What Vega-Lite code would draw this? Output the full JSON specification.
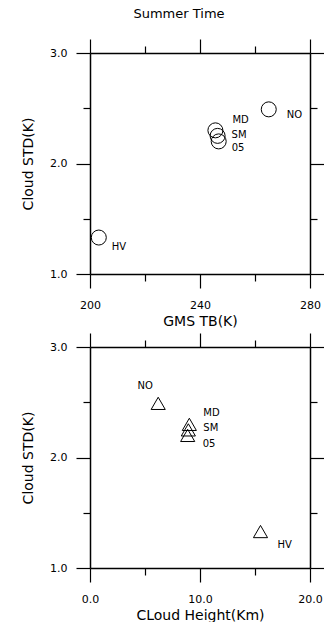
{
  "$schema": "https://vega.github.io/schema/vega-lite/v6.json",
  "padding": {"left": 21, "top": 8, "right": 0, "bottom": 0},
  "autosize": {"type": "pad"},
  "spacing": 4,
  "config": {
    "font": "DejaVu Sans",
    "view": {"stroke": null},
    "axis": {
      "grid": false,
      "domainColor": "black",
      "domainWidth": 1.5,
      "tickColor": "black",
      "tickWidth": 1.2,
      "labelColor": "black",
      "labelFontSize": 11,
      "labelFlush": false,
      "labelOverlap": false,
      "labelPadding": 9,
      "titleColor": "black",
      "titleFontSize": 14,
      "titleFontWeight": "normal"
    },
    "axisY": {"titlePadding": 14},
    "axisX": {"titlePadding": 4, "labelPadding": 11},
    "text": {"fontSize": 10, "font": "DejaVu Sans", "color": "black", "baseline": "middle", "align": "left"}
  },
  "datasets": {
    "summer": [
      {"station": "HV", "tb": 203.2, "height": 15.5, "std": 1.33},
      {"station": "MD", "tb": 245.6, "height": 9.03, "std": 2.30},
      {"station": "SM", "tb": 246.4, "height": 8.94, "std": 2.25},
      {"station": "05", "tb": 246.8, "height": 8.88, "std": 2.20},
      {"station": "NO", "tb": 265.0, "height": 6.2, "std": 2.49}
    ]
  },
  "vconcat": [
    {
      "width": 220,
      "height": 221,
      "title": {"text": "Summer Time", "fontSize": 13, "fontWeight": "normal", "font": "DejaVu Sans", "dx": -21, "offset": 17, "color": "black"},
      "data": {"name": "summer"},
      "encoding": {
        "x": {"field": "tb", "type": "quantitative", "scale": {"domain": [200, 280], "nice": false, "zero": false}, "axis": null},
        "y": {"field": "std", "type": "quantitative", "scale": {"domain": [1, 3], "nice": false, "zero": false}, "axis": null}
      },
      "layer": [
        {
          "mark": {"type": "point", "shape": "circle", "size": 225, "stroke": "black", "strokeWidth": 1, "filled": false, "opacity": 1},
          "encoding": {
            "x": {"field": "tb", "type": "quantitative", "scale": {"domain": [200, 280], "nice": false, "zero": false},
              "axis": {"orient": "bottom", "title": "GMS TB(K)", "values": [200, 220, 240, 260, 280],
                "labelExpr": "datum.value % 40 === 0 ? format(datum.value, 'd') : ''",
                "tickSize": {"condition": {"test": "datum.value % 40 === 0", "value": 14}, "value": 7}}},
            "y": {"field": "std", "type": "quantitative", "scale": {"domain": [1, 3], "nice": false, "zero": false},
              "axis": {"orient": "left", "title": "Cloud STD(K)", "values": [1, 1.5, 2, 2.5, 3],
                "labelExpr": "datum.value % 1 === 0 ? format(datum.value, '.1f') : ''",
                "tickSize": {"condition": {"test": "datum.value % 1 === 0", "value": 14}, "value": 7}}}
          }
        },
        {
          "mark": {"type": "point", "opacity": 0},
          "encoding": {
            "x": {"field": "tb", "type": "quantitative", "scale": {"domain": [200, 280], "nice": false, "zero": false},
              "axis": {"orient": "top", "title": null, "labels": false, "values": [200, 220, 240, 260, 280],
                "tickSize": {"condition": {"test": "datum.value % 40 === 0", "value": 14}, "value": 7}}},
            "y": {"field": "std", "type": "quantitative", "scale": {"domain": [1, 3], "nice": false, "zero": false},
              "axis": {"orient": "right", "title": null, "labels": false, "values": [1, 1.5, 2, 2.5, 3],
                "tickSize": {"condition": {"test": "datum.value % 1 === 0", "value": 14}, "value": 7}}}
          }
        },
        {"transform": [{"filter": "datum.station === 'MD'"}], "mark": {"type": "text", "dx": 17, "dy": -10}, "encoding": {"text": {"field": "station"}}},
        {"transform": [{"filter": "datum.station === 'SM'"}], "mark": {"type": "text", "dx": 14, "dy": -1}, "encoding": {"text": {"field": "station"}}},
        {"transform": [{"filter": "datum.station === '05'"}], "mark": {"type": "text", "dx": 13, "dy": 7}, "encoding": {"text": {"field": "station"}}},
        {"transform": [{"filter": "datum.station === 'NO'"}], "mark": {"type": "text", "dx": 18, "dy": 6}, "encoding": {"text": {"field": "station"}}},
        {"transform": [{"filter": "datum.station === 'HV'"}], "mark": {"type": "text", "dx": 13, "dy": 9}, "encoding": {"text": {"field": "station"}}}
      ],
      "resolve": {"axis": {"x": "independent", "y": "independent"}}
    },
    {
      "width": 220,
      "height": 221,
      "data": {"name": "summer"},
      "encoding": {
        "x": {"field": "height", "type": "quantitative", "scale": {"domain": [0, 20], "nice": false, "zero": false}, "axis": null},
        "y": {"field": "std", "type": "quantitative", "scale": {"domain": [1, 3], "nice": false, "zero": false}, "axis": null}
      },
      "layer": [
        {
          "mark": {"type": "point", "shape": "triangle-up", "size": 200, "stroke": "black", "strokeWidth": 1, "filled": false, "opacity": 1},
          "encoding": {
            "x": {"field": "height", "type": "quantitative", "scale": {"domain": [0, 20], "nice": false, "zero": false},
              "axis": {"orient": "bottom", "title": "CLoud Height(Km)", "values": [0, 5, 10, 15, 20],
                "labelExpr": "datum.value % 10 === 0 ? format(datum.value, '.1f') : ''",
                "tickSize": {"condition": {"test": "datum.value % 10 === 0", "value": 14}, "value": 7}}},
            "y": {"field": "std", "type": "quantitative", "scale": {"domain": [1, 3], "nice": false, "zero": false},
              "axis": {"orient": "left", "title": "Cloud STD(K)", "values": [1, 1.5, 2, 2.5, 3],
                "labelExpr": "datum.value % 1 === 0 ? format(datum.value, '.1f') : ''",
                "tickSize": {"condition": {"test": "datum.value % 1 === 0", "value": 14}, "value": 7}}}
          }
        },
        {
          "mark": {"type": "point", "opacity": 0},
          "encoding": {
            "x": {"field": "height", "type": "quantitative", "scale": {"domain": [0, 20], "nice": false, "zero": false},
              "axis": {"orient": "top", "title": null, "labels": false, "values": [0, 5, 10, 15, 20],
                "tickSize": {"condition": {"test": "datum.value % 10 === 0", "value": 14}, "value": 7}}},
            "y": {"field": "std", "type": "quantitative", "scale": {"domain": [1, 3], "nice": false, "zero": false},
              "axis": {"orient": "right", "title": null, "labels": false, "values": [1, 1.5, 2, 2.5, 3],
                "tickSize": {"condition": {"test": "datum.value % 1 === 0", "value": 14}, "value": 7}}}
          }
        },
        {"transform": [{"filter": "datum.station === 'NO'"}], "mark": {"type": "text", "align": "center", "dx": -13, "dy": -17}, "encoding": {"text": {"field": "station"}}},
        {"transform": [{"filter": "datum.station === 'MD'"}], "mark": {"type": "text", "dx": 14, "dy": -11}, "encoding": {"text": {"field": "station"}}},
        {"transform": [{"filter": "datum.station === 'SM'"}], "mark": {"type": "text", "dx": 15, "dy": -2}, "encoding": {"text": {"field": "station"}}},
        {"transform": [{"filter": "datum.station === '05'"}], "mark": {"type": "text", "dx": 15, "dy": 9}, "encoding": {"text": {"field": "station"}}},
        {"transform": [{"filter": "datum.station === 'HV'"}], "mark": {"type": "text", "dx": 17, "dy": 13}, "encoding": {"text": {"field": "station"}}}
      ],
      "resolve": {"axis": {"x": "independent", "y": "independent"}}
    }
  ]
}
